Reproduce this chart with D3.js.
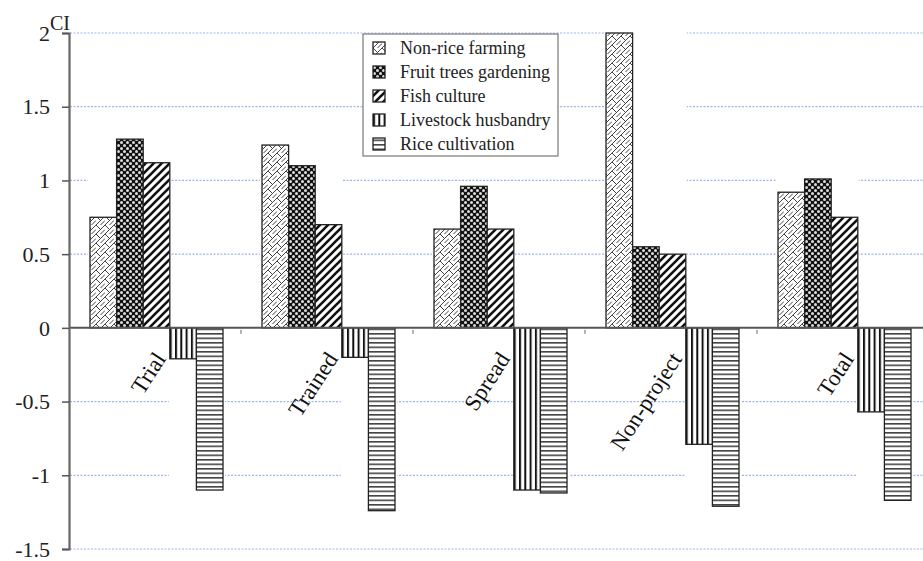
<!DOCTYPE html>
<html lang="en">
  <head>
    <meta charset="UTF-8" />
    <title>CI</title>
    <script src="https://d3js.org/d3.v7.min.js"></script>
    <style>
      body { margin: 0; background: #fff; }
      svg { font-family: "Liberation Serif", "Times New Roman", serif; }
      .grid { stroke: #9db3ea; stroke-width: 1.2; stroke-dasharray: 2,1.5; }
    </style>
  </head>
  <body>
    <script>
      const categories = ["Trial", "Trained", "Spread", "Non-project", "Total"];
      const series = ["Non-rice farming", "Fruit trees gardening", "Fish culture", "Livestock husbandry", "Rice cultivation"];
      const nonRice   = [0.75, 1.24, 0.67, 2.0, 0.92];
      const fruit     = [1.28, 1.10, 0.96, 0.55, 1.01];
      const fish      = [1.12, 0.70, 0.67, 0.50, 0.75];
      const livestock = [-0.21, -0.20, -1.10, -0.79, -0.57];
      const rice      = [-1.10, -1.24, -1.12, -1.21, -1.17];
      const yTicks = [2, 1.5, 1, 0.5, 0, -0.5, -1, -1.5];

      const values = [nonRice, fruit, fish, livestock, rice];
      const width = 923, height = 561;
      const serif = "Liberation Serif";

      const svg = d3.select("body").append("svg")
        .attr("width", width).attr("height", height);

      const defs = svg.append("defs");
      // patterns
      let p = defs.append("pattern").attr("id", "p0").attr("patternUnits", "userSpaceOnUse")
        .attr("width", 9).attr("height", 9);
      p.append("rect").attr("width", 9).attr("height", 9).attr("fill", "#fff");
      p.append("path").attr("d", "M0,9 L9,0 M-2,2 L2,-2 M7,11 L11,7 M0,0 L4.5,4.5 M4.5,9 L9,4.5")
        .attr("stroke", "#444").attr("stroke-width", 1).attr("fill", "none");

      p = defs.append("pattern").attr("id", "p1").attr("patternUnits", "userSpaceOnUse")
        .attr("width", 6).attr("height", 6);
      p.append("rect").attr("width", 6).attr("height", 6).attr("fill", "#111");
      p.append("circle").attr("cx", 1.5).attr("cy", 1.5).attr("r", 1.5).attr("fill", "#ddd");
      p.append("circle").attr("cx", 4.5).attr("cy", 4.5).attr("r", 1.5).attr("fill", "#ddd");

      p = defs.append("pattern").attr("id", "p2").attr("patternUnits", "userSpaceOnUse")
        .attr("width", 8).attr("height", 8);
      p.append("rect").attr("width", 8).attr("height", 8).attr("fill", "#fff");
      p.append("path").attr("d", "M-2,2 L2,-2 M0,8 L8,0 M6,10 L10,6")
        .attr("stroke", "#111").attr("stroke-width", 2.6);

      p = defs.append("pattern").attr("id", "p3").attr("patternUnits", "userSpaceOnUse")
        .attr("width", 5.3).attr("height", 5);
      p.append("rect").attr("width", 5.3).attr("height", 5).attr("fill", "#fff");
      p.append("rect").attr("x", 0).attr("width", 2).attr("height", 5).attr("fill", "#111");

      p = defs.append("pattern").attr("id", "p4").attr("patternUnits", "userSpaceOnUse")
        .attr("width", 5).attr("height", 4.5);
      p.append("rect").attr("width", 5).attr("height", 4.5).attr("fill", "#fff");
      p.append("rect").attr("y", 0).attr("width", 5).attr("height", 1.6).attr("fill", "#444");

      const y = d3.scaleLinear().domain([-1.5, 2]).range([549, 33]);
      const x0 = d3.scaleBand().domain(categories).range([69, 929]);
      const x1 = d3.scaleBand().domain(series).range([21, 154]);

      // gridlines
      svg.append("g").selectAll("line")
        .data(yTicks.filter(d => d !== 0))
        .enter().append("line")
        .attr("class", "grid")
        .attr("x1", 70).attr("x2", width)
        .attr("y1", d => y(d)).attr("y2", d => y(d));

      const groups = svg.append("g").selectAll("g")
        .data(categories)
        .enter().append("g")
        .attr("transform", d => "translate(" + x0(d) + ",0)");

      // white masks behind bars
      groups.append("rect")
        .attr("x", x1(series[0]) - 2)
        .attr("width", x1(series[2]) + x1.bandwidth() - x1(series[0]) + 3)
        .attr("y", (d, i) => y(d3.max([nonRice[i], fruit[i], fish[i]])) - 1)
        .attr("height", (d, i) => y(0) - y(d3.max([nonRice[i], fruit[i], fish[i]])) + 1)
        .attr("fill", "#fff");
      groups.append("rect")
        .attr("x", x1(series[3]) - 1)
        .attr("width", x1.bandwidth() * 2 + 3)
        .attr("y", y(0))
        .attr("height", (d, i) => y(d3.min([livestock[i], rice[i]])) - y(0) + 1)
        .attr("fill", "#fff");

      groups.selectAll(".bar")
        .data((d, i) => series.map((s, k) => ({ s: s, k: k, v: values[k][i] })))
        .enter().append("rect")
        .attr("class", "bar")
        .attr("x", d => x1(d.s))
        .attr("width", x1.bandwidth())
        .attr("y", d => y(Math.max(0, d.v)))
        .attr("height", d => Math.abs(y(d.v) - y(0)))
        .attr("fill", d => "url(#p" + d.k + ")")
        .attr("stroke", "#222").attr("stroke-width", 1.3);

      // zero line
      svg.append("line")
        .attr("x1", 69).attr("x2", width)
        .attr("y1", y(0)).attr("y2", y(0))
        .attr("stroke", "#555").attr("stroke-width", 2);

      // small category ticks
      svg.append("g").selectAll("line")
        .data(categories.slice(1))
        .enter().append("line")
        .attr("x1", d => x0(d)).attr("x2", d => x0(d))
        .attr("y1", y(0) + 2).attr("y2", y(0) + 6)
        .attr("stroke", "#666").attr("stroke-width", 1);

      // category labels
      groups.append("text")
        .attr("transform", "translate(" + (x1(series[3]) - 3) + "," + (y(0) + 31) + ") rotate(-57)")
        .attr("text-anchor", "end")
        .style("font-family", serif)
        .style("font-size", "23px")
        .attr("fill", "#111")
        .text(d => d);

      // y axis (tick labels drawn as plain text so the serif face is used)
      const yAxis = svg.append("g")
        .attr("transform", "translate(69,0)")
        .call(d3.axisLeft(y).tickValues(yTicks).tickSize(7).tickFormat(""));
      yAxis.attr("font-family", null).attr("font-size", null);
      yAxis.select(".domain").attr("stroke", "#666").attr("stroke-width", 2.2);
      yAxis.selectAll(".tick line").attr("stroke", "#555").attr("stroke-width", 1.5);

      svg.append("g").selectAll("text")
        .data(yTicks)
        .enter().append("text")
        .attr("x", 50)
        .attr("y", d => y(d))
        .attr("dy", "0.35em")
        .attr("text-anchor", "end")
        .style("font-family", serif)
        .style("font-size", "22px")
        .attr("fill", "#222")
        .text(d => String(d));

      svg.append("text").attr("x", 50).attr("y", 30)
        .style("font-family", serif)
        .style("font-size", "20px").attr("fill", "#222").text("CI");

      // legend
      const lg = svg.append("g").attr("transform", "translate(363,34)");
      lg.append("rect").attr("width", 195).attr("height", 122)
        .attr("fill", "#fff").attr("stroke", "#777").attr("stroke-width", 1.2);
      const li = lg.selectAll(".li").data(series).enter().append("g")
        .attr("transform", (d, i) => "translate(10," + (14 + i * 24) + ")");
      li.append("rect").attr("y", -6).attr("width", 12).attr("height", 12)
        .attr("fill", (d, i) => "url(#p" + i + ")")
        .attr("stroke", "#222").attr("stroke-width", 1.3);
      li.append("text").attr("x", 27).attr("y", 6)
        .style("font-family", serif)
        .style("font-size", "18px").attr("fill", "#222").text(d => d);
    </script>
  </body>
</html>
